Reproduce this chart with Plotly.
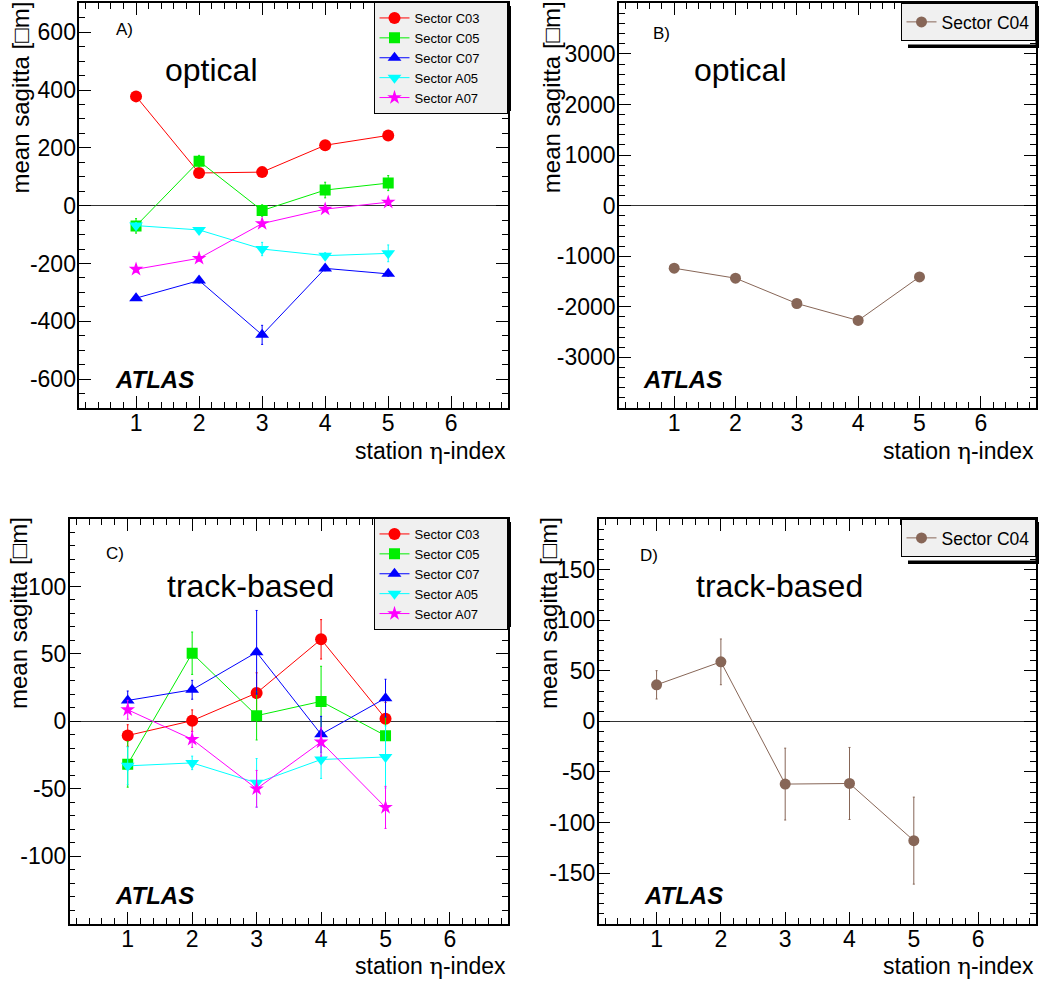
import plotly.graph_objects as go

W, H = 1044, 983

# ---------------- data ----------------
stations = [1, 2, 3, 4, 5]

# Panel A: optical, sectors C03 C05 C07 A05 A07
opt_C03 = [378, 113, 116, 209, 243]
opt_C03_err = [8, 8, 8, 8, 8]
opt_C05 = [-70, 154, -17, 54, 78]
opt_C05_err = [25, 20, 20, 27, 26]
opt_C07 = [-320, -259, -447, -217, -236]
opt_C07_err = [8, 8, 33, 8, 8]
opt_A05 = [-69, -84, -150, -173, -165]
opt_A05_err = [10, 8, 23, 10, 29]
opt_A07 = [-220, -182, -62, -12, 12]
opt_A07_err = [10, 10, 10, 8, 8]

# Panel B: optical, sector C04
opt_C04 = [-1237, -1434, -1934, -2270, -1408]

# Panel C: track-based
trk_C03 = [-10.5, 0.5, 21, 60.8, 2]
trk_C03_err = [8, 8, 15, 14.6, 12]
trk_C05 = [-31.8, 50.5, 4.2, 14.8, -10.6]
trk_C05_err = [17, 15.7, 18, 26, 14]
trk_C07 = [15.5, 23.4, 51.2, -9.6, 17.2]
trk_C07_err = [7, 7, 31, 13.3, 14]
trk_A05 = [-33, -30.8, -45.6, -28.3, -26.4]
trk_A05_err = [14, 5, 18, 14, 23]
trk_A07 = [8.6, -13.3, -50, -15.3, -63.8]
trk_A07_err = [7, 6, 13.6, 10.5, 15.6]

# Panel D: track-based, sector C04
trk_C04 = [36.1, 58.8, -62, -61.4, -117.9]
trk_C04_err = [14, 22.6, 35.5, 35.6, 43]

# tick labels
x_ticks = [1, 2, 3, 4, 5, 6]
yticks_A = [-600, -400, -200, 0, 200, 400, 600]
yticks_B = [-3000, -2000, -1000, 0, 1000, 2000, 3000]
yticks_C = [-100, -50, 0, 50, 100]
yticks_D = [-150, -100, -50, 0, 50, 100, 150]

sector_names = ["Sector C03", "Sector C05", "Sector C07", "Sector A05", "Sector A07"]
sector_colors = ["#ff0000", "#00ee00", "#0000ff", "#00ffff", "#ff00ff"]
sector_symbols = ["circle", "square", "triangle-up", "triangle-down", "star"]
sector_sizes = [12, 11, 12, 12, 11]
brown = "#876657"

y_title = "mean sagitta [\u25a1m]"
x_title = 'station <span style="font-family:DejaVu Serif">\u03b7</span>-index'

FONT = "Liberation Sans, Arial, sans-serif"
PAD = "\u00a0" * 6   # widen the small legends like in the reference


def px(x):
    return x / W


def py(y):
    return 1 - y / H


fig = go.Figure()

# ---------------- traces ----------------
optA = [(opt_C03, opt_C03_err), (opt_C05, opt_C05_err), (opt_C07, opt_C07_err),
        (opt_A05, opt_A05_err), (opt_A07, opt_A07_err)]
trkC = [(trk_C03, trk_C03_err), (trk_C05, trk_C05_err), (trk_C07, trk_C07_err),
        (trk_A05, trk_A05_err), (trk_A07, trk_A07_err)]

for i, (vals, errs) in enumerate(optA):
    fig.add_trace(go.Scatter(
        x=stations, y=vals, mode="lines+markers", name=sector_names[i] + PAD,
        line=dict(color=sector_colors[i], width=1),
        marker=dict(symbol=sector_symbols[i], size=sector_sizes[i], color=sector_colors[i]),
        error_y=dict(type="data", array=errs, color=sector_colors[i], thickness=1, width=1),
        xaxis="x", yaxis="y", legend="legend"))

fig.add_trace(go.Scatter(
    x=stations, y=opt_C04, mode="lines+markers", name="Sector C04",
    line=dict(color=brown, width=1),
    marker=dict(symbol="circle", size=11, color=brown),
    xaxis="x2", yaxis="y2", legend="legend2"))

for i, (vals, errs) in enumerate(trkC):
    fig.add_trace(go.Scatter(
        x=stations, y=vals, mode="lines+markers", name=sector_names[i] + PAD,
        line=dict(color=sector_colors[i], width=1),
        marker=dict(symbol=sector_symbols[i], size=sector_sizes[i], color=sector_colors[i]),
        error_y=dict(type="data", array=errs, color=sector_colors[i], thickness=1, width=1),
        xaxis="x3", yaxis="y3", legend="legend3"))

fig.add_trace(go.Scatter(
    x=stations, y=trk_C04, mode="lines+markers", name="Sector C04",
    line=dict(color=brown, width=1),
    marker=dict(symbol="circle", size=11, color=brown),
    error_y=dict(type="data", array=trk_C04_err, color=brown, thickness=1, width=1),
    xaxis="x4", yaxis="y4", legend="legend4"))

# ---------------- axes ----------------
doms = {
    1: ([px(79.3), px(508)], [py(408), py(3.3)]),
    2: ([px(619), px(1036)], [py(408), py(3.3)]),
    3: ([px(69.7), px(508)], [py(923.7), py(519)]),
    4: ([px(598.7), px(1036)], [py(923.7), py(519)]),
}
yspec = {
    1: ([-700, 700], yticks_A, 50),
    2: ([-4000, 4000], yticks_B, 200),
    3: ([-150, 150], yticks_C, 10),
    4: ([-200, 200], yticks_D, 10),
}

layout = dict(
    width=W, height=H, margin=dict(l=0, r=0, t=0, b=0),
    paper_bgcolor="white", plot_bgcolor="white",
    font=dict(family=FONT, color="black"),
    showlegend=True,
)

for k in range(1, 5):
    xd, yd = doms[k]
    yr, yt, ymin = yspec[k]
    sx = "" if k == 1 else str(k)
    layout["xaxis" + sx] = dict(
        domain=xd, range=[0.1, 6.9], anchor="y" + sx,
        tickmode="array", tickvals=x_ticks, ticktext=[str(v) for v in x_ticks],
        ticks="inside", ticklen=12, tickwidth=1, tickcolor="black",
        minor=dict(dtick=0.2, tick0=0, ticks="inside", ticklen=6, tickcolor="black", tickwidth=1),
        showline=True, linecolor="black", linewidth=1.5, mirror="ticks",
        showgrid=False, zeroline=False, ticklabelstandoff=-6,
        tickfont=dict(size=23, family=FONT), fixedrange=True,
    )
    layout["yaxis" + sx] = dict(
        domain=yd, range=yr, anchor="x" + sx,
        tickmode="array", tickvals=yt, ticktext=[str(v) for v in yt],
        ticks="inside", ticklen=12, tickwidth=1, tickcolor="black",
        minor=dict(dtick=ymin, tick0=0, ticks="inside", ticklen=6, tickcolor="black", tickwidth=1),
        showline=True, linecolor="black", linewidth=1.5, mirror="ticks",
        showgrid=False, zeroline=True, zerolinecolor="#333333", zerolinewidth=1,
        ticklabelstandoff=-3,
        tickfont=dict(size=23, family=FONT), fixedrange=True,
    )

# ---------------- legends ----------------
def leg(xr, yt, fs):
    return dict(
        x=px(xr), y=py(yt), xanchor="right", yanchor="top",
        xref="paper", yref="paper",
        bgcolor="#f0f0f0", bordercolor="black", borderwidth=1,
        font=dict(size=fs, family=FONT, color="black"),
        tracegroupgap=0, itemwidth=30,
    )

layout["legend"] = leg(507.5, 2, 13)
layout["legend2"] = leg(1035.5, 3, 17.5)
layout["legend3"] = leg(507.5, 518, 13)
layout["legend4"] = leg(1035.5, 519, 17.5)

# legend shadows (thin strips right and below each legend box)
shapes = []
for (x0, y0, x1, y1) in [(380, 6, 511, 111), (908, 6, 1039, 48), (380, 522, 511, 627), (908, 522, 1039, 564)]:
    shapes.append(dict(type="rect", xref="paper", yref="paper",
                       x0=px(x1 - 3.5), x1=px(x1), y0=py(y1), y1=py(y0),
                       fillcolor="black", line=dict(width=0), layer="above"))
    shapes.append(dict(type="rect", xref="paper", yref="paper",
                       x0=px(x0), x1=px(x1), y0=py(y1), y1=py(y1 - 3.5),
                       fillcolor="black", line=dict(width=0), layer="above"))
layout["shapes"] = shapes

# ---------------- annotations ----------------
ann = []


def text(x, y, s, size, xanchor="center", yanchor="middle", angle=0, family=FONT):
    ann.append(dict(x=px(x), y=py(y), xref="paper", yref="paper", text=s, showarrow=False,
                    xanchor=xanchor, yanchor=yanchor, textangle=angle,
                    font=dict(size=size, family=family, color="black")))


narrow = "Liberation Sans Narrow, Liberation Sans, sans-serif"
# panel letters
text(114, 29, "A)", 17, xanchor="left", family=narrow)
text(651, 33, "B)", 17, xanchor="left", family=narrow)
text(104, 553, "C)", 17, xanchor="left", family=narrow)
text(638, 555, "D)", 17, xanchor="left", family=narrow)
# big labels
text(211, 70, "optical", 32)
text(740, 70, "optical", 32)
text(250, 586, "track-based", 32)
text(779, 586, "track-based", 32)
# ATLAS
for (x, y) in [(113, 380), (641, 380), (113, 895), (642, 895)]:
    text(x, y, "<b><i>ATLAS</i></b>", 24, xanchor="left")
# x titles
for (x, y) in [(508, 451), (1036, 451), (508, 966), (1036, 966)]:
    text(x, y, x_title, 23, xanchor="right")
# y titles
for (x, y) in [(20, 97.5), (551.7, 97.5), (18, 613), (548, 613)]:
    text(x, y, y_title, 24, angle=-90)

layout["annotations"] = ann
fig.update_layout(**layout)

fig.write_html("out.html", config={"displayModeBar": False})

# remove default page margins so the figure fits the window exactly
with open("out.html", "r", encoding="utf-8") as f:
    html = f.read()
html = html.replace("<body>", '<body style="margin:0;padding:0;overflow:hidden">', 1)
with open("out.html", "w", encoding="utf-8") as f:
    f.write(html)
